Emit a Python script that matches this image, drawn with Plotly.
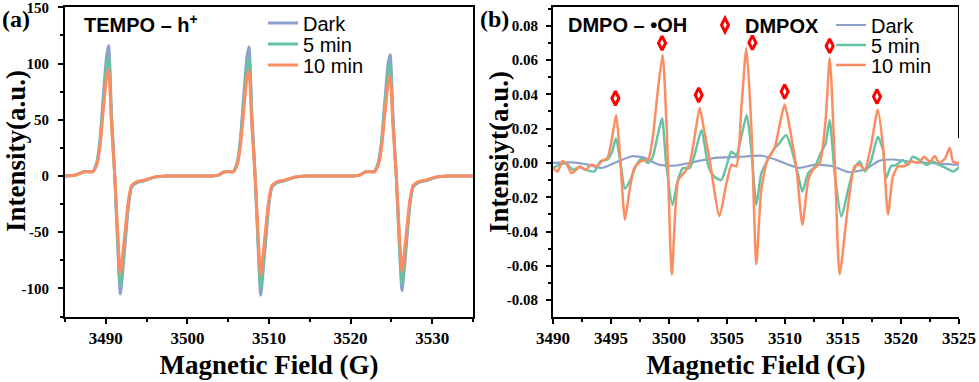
import plotly.graph_objects as go

# ---- panel (a): TEMPO - h+ ----
field_a = [3485.0, 3486.3, 3487.4, 3488.4, 3488.9, 3489.3, 3489.7, 3490.1, 3490.35, 3490.7,
           3491.1, 3491.45, 3491.78, 3492.35, 3492.75, 3493.15, 3493.8, 3494.8, 3496.0, 3497.5,
           3503.0, 3503.8, 3504.6, 3505.6, 3506.1, 3506.5, 3506.9, 3507.3, 3507.55, 3507.9,
           3508.3, 3508.65, 3508.98, 3509.55, 3509.95, 3510.35, 3511.0, 3512.0, 3513.2, 3514.7,
           3520.3, 3521.1, 3521.9, 3522.9, 3523.4, 3523.8, 3524.2, 3524.6, 3524.85, 3525.2,
           3525.6, 3525.95, 3526.3, 3526.85, 3527.25, 3527.65, 3528.3, 3529.3, 3530.5, 3532.0,
           3535.0]
dark_a = [0, 0.8, 4, 4, 12, 33, 72, 107, 116, 55,
          0, -60, -105, -62, -28, -10, -6, -4, -1, 0,
          0, 0.8, 4, 4, 12, 33, 71, 106, 115, 55,
          0, -60, -106, -62, -28, -10, -6, -4, -1, 0,
          0, 0.8, 4, 4, 12, 32, 67, 100, 108, 52,
          0, -58, -102, -60, -27, -10, -6, -4, -1, 0,
          0]
min5_a = [0, 0.8, 4, 3.8, 11, 30, 66, 98, 106, 50,
          0, -56, -98, -57, -26, -9.5, -5.5, -3.8, -1, 0,
          0, 0.8, 4, 3.8, 11, 30, 65, 97, 105, 50,
          0, -56, -99, -57, -26, -9.5, -5.5, -3.8, -1, 0,
          0, 0.8, 4, 3.8, 11, 29, 62, 92, 100, 48,
          0, -55, -96, -56, -25, -9.5, -5.5, -3.8, -1, 0,
          0]
min10_a = [0, 0.8, 3.8, 3.6, 10, 27, 59, 88, 95, 45,
           0, -50, -87, -50, -23, -8.5, -5, -3.5, -0.8, 0,
           0, 0.8, 3.8, 3.6, 10, 27, 58, 87, 94, 45,
           0, -50, -88, -50, -23, -8.5, -5, -3.5, -0.8, 0,
           0, 0.8, 3.8, 3.6, 10, 26, 55, 82, 89, 43,
           0, -49, -85, -49, -22, -8.5, -5, -3.5, -0.8, 0,
           0]

# ---- panel (b): DMPO - .OH ----
field_b10 = [3490.0, 3490.4, 3490.8, 3491.2, 3491.6, 3492.0, 3492.3, 3492.8, 3493.3, 3493.8,
             3494.2, 3494.7, 3495.1, 3495.45, 3495.8, 3496.2, 3496.6, 3497.0, 3497.6, 3498.2,
             3498.6, 3499.0, 3499.45, 3499.8, 3500.25, 3500.8, 3501.4, 3501.8, 3502.2, 3502.65,
             3503.0, 3503.5, 3504.35, 3504.95, 3505.4, 3505.8, 3506.25, 3506.67, 3507.1, 3507.53,
             3507.95, 3508.5, 3509.1, 3509.5, 3509.97, 3510.5, 3511.0, 3511.5, 3512.0, 3512.4,
             3513.0, 3513.5, 3513.85, 3514.0, 3514.35, 3514.71, 3515.43, 3516.0, 3516.44, 3516.87,
             3517.4, 3518.0, 3518.45, 3518.88, 3519.3, 3519.75, 3520.3, 3520.9, 3521.5, 3522.0,
             3522.5, 3522.9, 3523.3, 3523.8, 3524.2, 3524.5, 3525.0]
min10_b = [-0.003, -0.005, 0.001, -0.001, -0.006, -0.004, -0.002, -0.004, -0.001, -0.002,
           0.001, 0.003, 0.015, 0.028, 0.002, -0.033, -0.016, -0.003, 0.001, 0.002,
           0.015, 0.040, 0.063, 0.020, -0.065, -0.010, -0.005, 0.000, 0.015, 0.032,
           0.020, 0.002, -0.031, -0.012, -0.001, -0.002, 0.033, 0.067, 0.021, -0.059,
           -0.016, 0.002, 0.0085, 0.021, 0.034, 0.017, -0.004, -0.036, -0.010, -0.004,
           0.000, 0.025, 0.061, 0.048, -0.010, -0.065, -0.025, -0.002, -0.001, -0.004,
           0.0095, 0.031, 0.0095, -0.030, -0.008, -0.002, -0.002, 0.001, 0.000, 0.0036,
           0.0007, 0.004, 0.000, 0.0027, 0.0088, 0.0007, 0.000]

field_b5 = [3490.0, 3490.55, 3491.1, 3491.7, 3492.27, 3492.85, 3493.55, 3494.1, 3494.7, 3495.1,
            3495.43, 3495.86, 3496.2, 3496.73, 3497.2, 3497.7, 3498.2, 3498.6, 3499.0, 3499.4,
            3499.75, 3500.3, 3500.76, 3501.2, 3501.78, 3502.2, 3502.8, 3503.4, 3503.9, 3504.5,
            3504.95, 3505.37, 3505.8, 3506.24, 3506.7, 3507.1, 3507.53, 3507.96, 3508.5, 3509.1,
            3509.5, 3510.1, 3510.5, 3511.1, 3511.5, 3512.0, 3512.6, 3513.0, 3513.5, 3513.85,
            3514.28, 3514.86, 3515.43, 3515.86, 3516.44, 3516.87, 3517.4, 3518.0, 3518.45, 3518.7,
            3519.16, 3519.6, 3520.16, 3520.6, 3521.0, 3521.6, 3522.2, 3522.76, 3523.3, 3523.9,
            3524.5, 3525.0]
min5_b = [-0.003, -0.001, 0.000, -0.004, -0.0025, -0.004, -0.005, 0.001, 0.002, 0.0066,
          0.0144, -0.002, -0.015, -0.009, -0.001, 0.0026, 0.000, 0.0036, 0.0153, 0.026,
          0.000, -0.0245, -0.010, -0.003, -0.003, 0.0046, 0.019, -0.002, -0.008, -0.010,
          -0.002, 0.0065, 0.0046, 0.0153, 0.028, 0.0075, -0.0245, -0.006, 0.0017, 0.0085,
          0.0114, 0.0163, 0.0095, -0.006, -0.0167, -0.006, -0.002, 0.0046, 0.0114, 0.025,
          -0.006, -0.0313, -0.016, -0.005, 0.0008, -0.005, 0.0008, 0.0153, 0.0075, -0.0089,
          -0.0018, -0.0012, 0.0017, -0.0012, 0.0036, 0.0017, -0.0012, 0.0008, -0.0012, -0.003,
          -0.005, -0.0025]

field_bd = [3490.0, 3491.6, 3493.0, 3494.2, 3495.3, 3496.8, 3497.9, 3499.1, 3500.5, 3502.3,
            3504.0, 3506.0, 3508.0, 3509.2, 3510.3, 3511.2, 3512.6, 3514.1, 3515.5, 3517.0,
            3518.1, 3519.3, 3520.7, 3522.4, 3524.7, 3525.0]
dark_b = [0.000, 0.0003, -0.001, -0.0029, 0.000, 0.0039, 0.003, -0.001, -0.0016, 0.0008,
          0.003, 0.0035, 0.0042, 0.0019, -0.001, -0.0029, -0.001, -0.0019, -0.0054, -0.0035,
          0.0012, 0.002, 0.0008, 0.000, -0.001, -0.001]

# DMPOX marks
dmpox_x = [3495.38, 3499.4, 3502.56, 3507.19, 3509.97, 3513.85, 3517.93]
dmpox_y = [0.0377, 0.0698, 0.0396, 0.0701, 0.0416, 0.0682, 0.0387]

# tick labels
ytick_a = [-100, -50, 0, 50, 100, 150]
ytick_a_text = ["-100", "-50", "0", "50", "100", "150"]
ytick_b = [-0.08, -0.06, -0.04, -0.02, 0.0, 0.02, 0.04, 0.06, 0.08]
ytick_b_text = ["-0.08", "-0.06", "-0.04", "-0.02", "0.00", "0.02", "0.04", "0.06", "0.08"]

BLUE = "#8da0cb"
GREEN = "#66c2a5"
ORANGE = "#fc8d62"
SERIF = "Times New Roman, Liberation Serif, serif"
SANS = "Arial, Liberation Sans, sans-serif"

fig = go.Figure()

# panel (a) lines
fig.add_trace(go.Scatter(x=field_a, y=dark_a, name="Dark", mode="lines", legend="legend",
                         line=dict(color=BLUE, width=3, shape="spline", smoothing=0.5),
                         xaxis="x", yaxis="y"))
fig.add_trace(go.Scatter(x=field_a, y=min5_a, name="5 min", mode="lines", legend="legend2",
                         line=dict(color=GREEN, width=3, shape="spline", smoothing=0.5),
                         xaxis="x", yaxis="y"))
fig.add_trace(go.Scatter(x=field_a, y=min10_a, name="10 min", mode="lines", legend="legend3",
                         line=dict(color=ORANGE, width=3, shape="spline", smoothing=0.5),
                         xaxis="x", yaxis="y"))

# panel (b) lines
fig.add_trace(go.Scatter(x=field_bd, y=dark_b, name="Dark", mode="lines", legend="legend4",
                         line=dict(color=BLUE, width=2.2, shape="spline", smoothing=0.6),
                         xaxis="x2", yaxis="y2"))
fig.add_trace(go.Scatter(x=field_b5, y=min5_b, name="5 min", mode="lines", legend="legend5",
                         line=dict(color=GREEN, width=2.5, shape="spline", smoothing=0.6),
                         xaxis="x2", yaxis="y2"))
fig.add_trace(go.Scatter(x=field_b10, y=min10_b, name="10 min", mode="lines", legend="legend6",
                         line=dict(color=ORANGE, width=2.5, shape="spline", smoothing=0.6),
                         xaxis="x2", yaxis="y2"))
fig.add_trace(go.Scatter(x=dmpox_x, y=dmpox_y, name="DMPOX", mode="markers", legend="legend7",
                         marker=dict(symbol="diamond-tall-open", size=10, color="red",
                                     line=dict(color="red", width=3)),
                         xaxis="x2", yaxis="y2"))

H = 382.0
W = 979.0


def leg(xpx, ypx, bold=False):
    return dict(x=xpx / W, y=1 - ypx / H, xanchor="left", yanchor="middle",
                bgcolor="rgba(0,0,0,0)", borderwidth=0, itemwidth=30,
                font=dict(family=SANS, size=20, color="black",
                          weight="bold" if bold else "normal"))


axis_common = dict(showline=True, linecolor="black", linewidth=2, showgrid=False,
                   zeroline=False, ticks="outside", ticklen=5, tickwidth=2,
                   tickcolor="black", automargin=False, ticklabeloverflow="allow")
xtickfont = dict(family=SERIF, size=17, color="black", weight="bold")
ytickfont = dict(family=SERIF, size=15, color="black", weight="bold")
xtitle = dict(text="<b>Magnetic Field (G)</b>", standoff=8,
              font=dict(family=SERIF, size=27, color="black"))

fig.update_layout(
    width=979, height=382,
    margin=dict(l=0, r=0, t=0, b=0),
    paper_bgcolor="white", plot_bgcolor="white",
    showlegend=True,
    xaxis=dict(domain=[65 / W, 473 / W], range=[3485, 3535], dtick=10, tick0=3490,
               mirror=True, anchor="y", tickfont=xtickfont, title=xtitle,
               minor=dict(dtick=5, tick0=3485, ticks="outside", ticklen=3, tickcolor="black"),
               **axis_common),
    yaxis=dict(domain=[1 - 316.5 / H, 1 - 7 / H], range=[-125, 150.3],
               tickmode="array", tickvals=ytick_a, ticktext=ytick_a_text,
               mirror=True, anchor="x", tickfont=ytickfont, ticklabelstandoff=6,
               minor=dict(dtick=25, tick0=0, ticks="outside", ticklen=3, tickcolor="black"),
               **axis_common),
    xaxis2=dict(domain=[553 / W, 959 / W], range=[3490, 3525], dtick=5, tick0=3490,
                mirror=True, anchor="y2", tickfont=xtickfont, title=xtitle,
                minor=dict(dtick=2.5, tick0=3490, ticks="outside", ticklen=3, tickcolor="black"),
                **axis_common),
    yaxis2=dict(domain=[1 - 317 / H, 1 - 7 / H], range=[-0.0898, 0.0909],
                tickmode="array", tickvals=ytick_b, ticktext=ytick_b_text,
                anchor="x2", tickfont=ytickfont, ticklabelstandoff=5,
                minor=dict(dtick=0.01, tick0=0, ticks="outside", ticklen=3, tickcolor="black"),
                **axis_common),
    legend=leg(263, 23),
    legend2=leg(263, 44),
    legend3=leg(263, 65),
    legend4=leg(831, 25),
    legend5=leg(831, 45),
    legend6=leg(831, 65),
    legend7=leg(705, 25, bold=True),
)

# partial right frame of panel (b)
fig.add_shape(type="line", xref="x2", yref="y2", x0=3525, x1=3525, y0=0.0146, y1=0.0909,
              line=dict(color="black", width=2))

# y titles, placed like the original (slightly above the axis centre)
fig.add_annotation(text="<b>Intensity(a.u.)</b>", xref="paper", yref="paper",
                   x=16 / W, y=1 - 151 / H, textangle=-90, showarrow=False,
                   xanchor="center", yanchor="middle",
                   font=dict(family=SERIF, size=27, color="black"))
fig.add_annotation(text="<b>Intensiyt(a.u.)</b>", xref="paper", yref="paper",
                   x=499 / W, y=1 - 152 / H, textangle=-90, showarrow=False,
                   xanchor="center", yanchor="middle",
                   font=dict(family=SERIF, size=27, color="black"))

fig.add_annotation(text="<b>TEMPO – h<sup>+</sup></b>", xref="paper", yref="paper",
                   x=82 / W, y=1 - 24 / H, xanchor="left", yanchor="middle", showarrow=False,
                   font=dict(family=SANS, size=20, color="black"))
fig.add_annotation(text="<b>DMPO – •OH</b>", xref="paper", yref="paper",
                   x=566 / W, y=1 - 25 / H, xanchor="left", yanchor="middle", showarrow=False,
                   font=dict(family=SANS, size=20, color="black"))
fig.add_annotation(text="<b>(a)</b>", xref="paper", yref="paper",
                   x=0, y=1 - 19 / H, xanchor="left", yanchor="middle", showarrow=False,
                   font=dict(family=SERIF, size=24, color="black"))
fig.add_annotation(text="<b>(b)</b>", xref="paper", yref="paper",
                   x=478 / W, y=1 - 19 / H, xanchor="left", yanchor="middle", showarrow=False,
                   font=dict(family=SERIF, size=24, color="black"))

# body has a default margin; drop it so the figure sits at the window's corner
fig.write_html("out.html", config={"displayModeBar": False},
               post_script="document.body.style.margin='0';")
